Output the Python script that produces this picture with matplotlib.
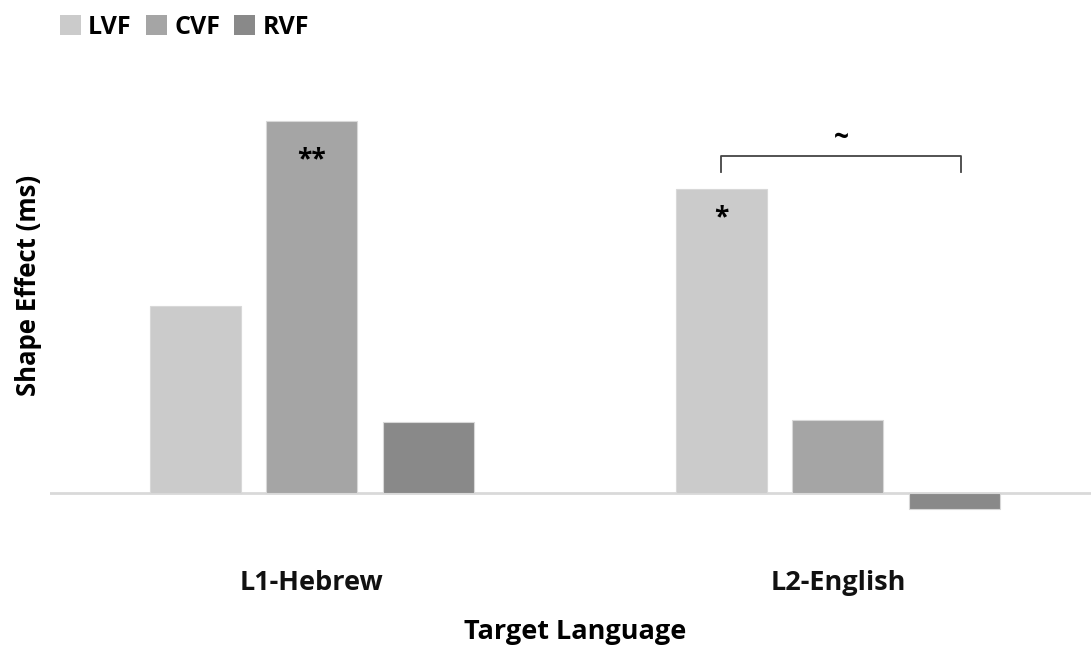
import numpy as np
import matplotlib.pyplot as plt
from matplotlib.patches import Patch

# Shape effect (ms) per visual field for each target language
languages = ["L1-Hebrew", "L2-English"]
fields = ["LVF", "CVF", "RVF"]
lvf = [37.4, 60.8]
cvf = [74.4, 14.6]
rvf = [14.2, -3.2]
colors = ["#cbcbcb", "#a5a5a5", "#898989"]

plt.rcParams['font.family'] = ['Open Sans', 'DejaVu Sans']

W, H = 1091, 647
fig = plt.figure(figsize=(W / 100, H / 100), dpi=100)
ax = fig.add_axes([50 / W, 1 - 540 / H, (1091 - 50) / W, (540 - 80) / H])

x = np.arange(len(languages))
width = 0.173
step = 0.2215
series = [lvf, cvf, rvf]
for i, (vals, col) in enumerate(zip(series, colors)):
    ax.bar(x + (i - 1) * step, vals, width, color=col, edgecolor="#d8d8d8",
           linewidth=0.8, zorder=2)

ax.set_xlim(-0.498, 1.481)
ax.set_ylim(-9.4, 82.6)
ax.axhline(0, color="#d9d9d9", linewidth=2, zorder=1)

for s in ax.spines.values():
    s.set_visible(False)
ax.set_yticks([])
ax.set_xticks([])

# category labels below the plot
for xi, lab in zip(x, languages):
    ax.text(xi, -18.0, lab, ha="center", va="center", fontsize=19.5,
            fontweight="bold", color="#111111")

# significance marks
ax.text(x[0], cvf[0] - 7.8, "**", ha="center", va="center", fontsize=19,
        fontweight="bold")
ax.text(x[1] - step, lvf[1] - 5.8, "*", ha="center", va="center", fontsize=19,
        fontweight="bold")

# bracket between LVF and RVF for L2-English
bx0 = x[1] - step
bx1 = x[1] + step + 0.012
by = 67.4
ax.plot([bx0, bx0, bx1, bx1], [by - 3.2, by, by, by - 3.2], color="#444444",
        linewidth=1.3, clip_on=False)
ax.text((bx0 + bx1) / 2, by + 3.8, "~", ha="center", va="center",
        fontsize=19, fontweight="bold")

fig.text(29 / W, 1 - 285 / H, "Shape Effect (ms)", rotation=90, ha="center",
         va="center", fontsize=18.5, fontweight="bold")
fig.text(575 / W, 1 - 632 / H, "Target Language", ha="center", va="center",
         fontsize=19.5, fontweight="bold")

handles = [Patch(facecolor=c, edgecolor="none") for c in colors]
fig.legend(handles, fields, loc="upper left", bbox_to_anchor=(37 / W, 1.012),
           ncol=3, frameon=False, handlelength=0.85, handleheight=0.85,
           handletextpad=0.3, columnspacing=0.55,
           prop={"weight": "bold", "size": 18})

fig.savefig("out.png", dpi=100, facecolor="white")
